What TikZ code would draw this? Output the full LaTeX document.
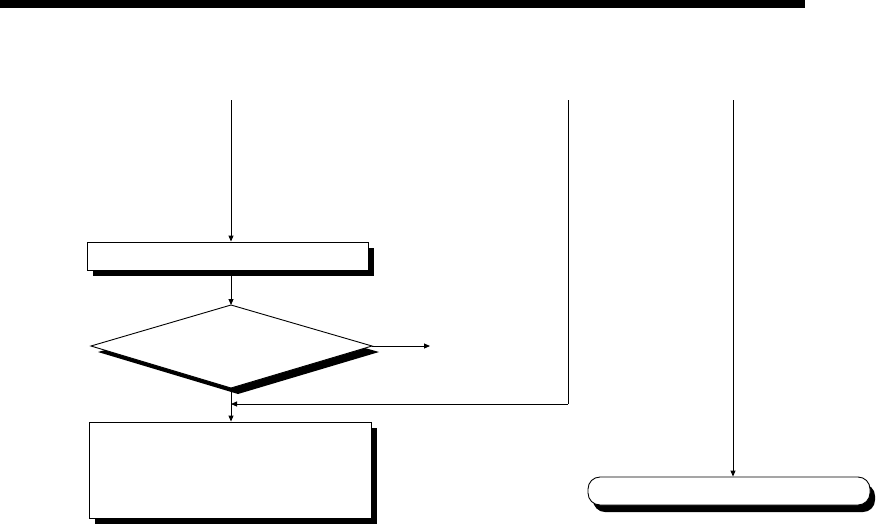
\documentclass[tikz,border=0pt]{standalone}
\usetikzlibrary{arrows.meta,shapes.geometric}
\begin{document}
\begin{tikzpicture}[x=1pt,y=-1pt,
  line width=0.9pt,
  arr/.style={-{Triangle[length=6pt,width=5pt]}},
  shadowed/.style={draw=black,fill=white,line width=0.9pt},
  shadowfill/.style={fill=black,draw=none}]
\useasboundingbox (0,0) rectangle (877,525);
% top bar
\fill (0,0) rectangle (805,8);
% box 1 with shadow
\fill[shadowfill] (93,248) rectangle (374,276);
\node[shadowed,rectangle,minimum width=281pt,minimum height=28pt,inner sep=0pt] (box1) at (227.5,256) {};
% diamond with shadow
\fill[shadowfill] (98,352) -- (238,312) -- (379,352) -- (238,394) -- cycle;
\draw[shadowed] (91,346) -- (231,305) -- (372,346) -- (231,388) -- cycle;
\coordinate (dtop) at (231,305);
\coordinate (dright) at (372,346);
\coordinate (dbot) at (231,388);
% box 2 with shadow
\fill[shadowfill] (95,428) rectangle (377,524);
\node[shadowed,rectangle,minimum width=282pt,minimum height=96pt,inner sep=0pt] (box2) at (230,470) {};
% terminator with shadow
\fill[shadowfill,rounded corners=12pt] (593,484) rectangle (875,512);
\node[shadowed,rectangle,rounded corners=12pt,minimum width=282pt,minimum height=28pt,inner sep=0pt] (term) at (729,491) {};
% start coordinates
\coordinate (s1) at (231,100);
\coordinate (s2) at (568,100);
\coordinate (s3) at (733,100);
\coordinate (j) at (231,404);
\coordinate (c2) at (568,404);
\coordinate (out) at (430,346);
% connectors
\draw[arr] (s1) -- (s1 |- box1.north);
\draw[arr] (s1 |- box1.south) -- (dtop);
\draw[arr] (dright) -- (out);
\draw (dbot) -- (j);
\draw[arr] (j) -- (j |- box2.north);
\draw (s2) -- (c2);
\draw[arr] (c2) -- (j);
\draw[arr] (s3) -- (s3 |- term.north);
\end{tikzpicture}
\end{document}
